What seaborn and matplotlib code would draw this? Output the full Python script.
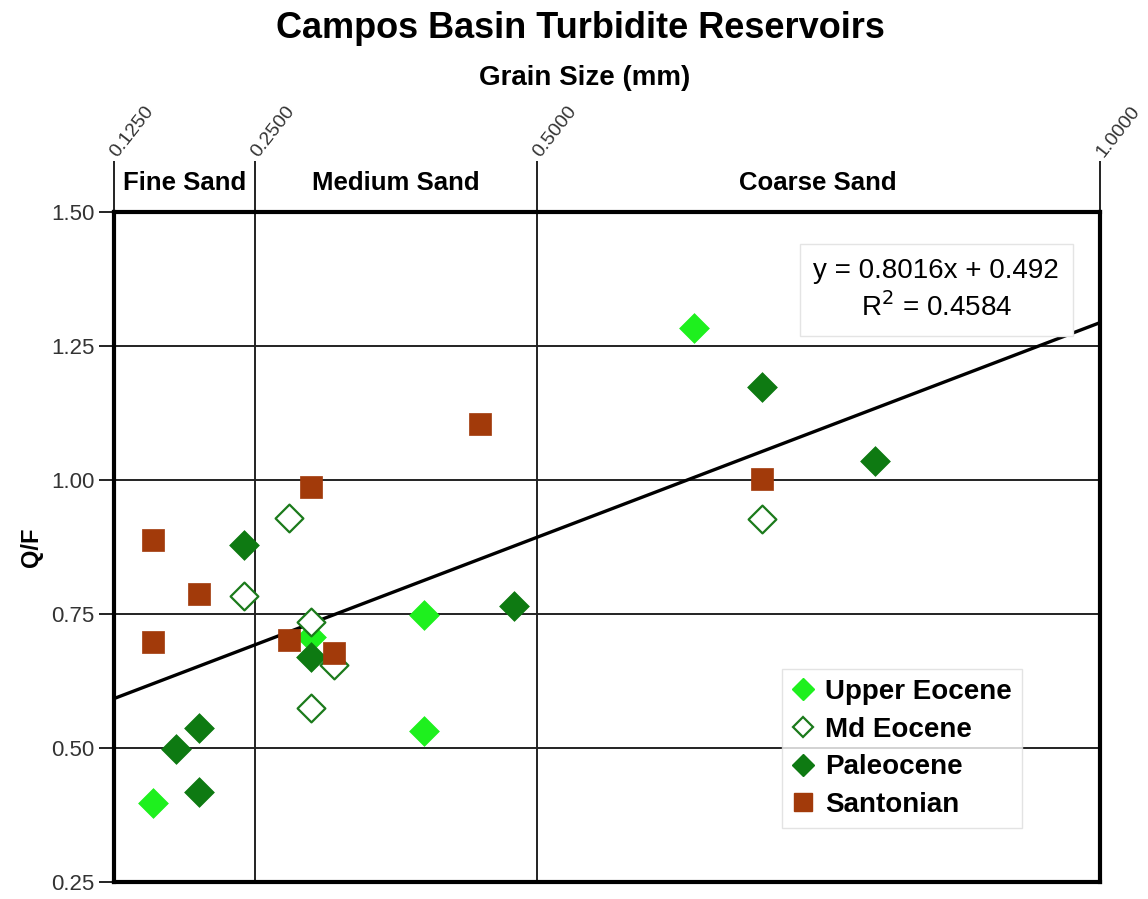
import numpy as np
import pandas as pd
import matplotlib
matplotlib.use("Agg")
import matplotlib.pyplot as plt
import matplotlib.transforms as mtrans
from matplotlib.lines import Line2D
import seaborn as sns

sns.set_style("white")
plt.rcParams['font.family'] = ['Liberation Sans', 'DejaVu Sans']
plt.rcParams['text.color'] = 'black'
plt.rcParams['axes.labelcolor'] = 'black'

# grain size (mm) and Q/F ratio per series
upper_eocene_x = [0.64, 0.16, 0.30, 0.40, 0.40]
upper_eocene_y = [1.284, 0.397, 0.707, 0.748, 0.532]

md_eocene_x = [0.28, 0.24, 0.30, 0.32, 0.30, 0.70]
md_eocene_y = [0.929, 0.784, 0.735, 0.655, 0.575, 0.927]

paleocene_x = [0.24, 0.30, 0.20, 0.18, 0.20, 0.48, 0.70, 0.80]
paleocene_y = [0.879, 0.670, 0.537, 0.498, 0.418, 0.765, 1.173, 1.035]

santonian_x = [0.16, 0.20, 0.16, 0.28, 0.32, 0.30, 0.45, 0.70]
santonian_y = [0.888, 0.787, 0.698, 0.701, 0.677, 0.987, 1.104, 1.002]

# trend line
slope = 0.8016
intercept = 0.492
r2 = 0.4584

x_ticks = [0.125, 0.25, 0.5, 1.0]
x_tick_labels = ["0.1250", "0.2500", "0.5000", "1.0000"]
y_ticks = [0.25, 0.50, 0.75, 1.00, 1.25, 1.50]
zone_names = ["Fine Sand", "Medium Sand", "Coarse Sand"]

fig = plt.figure(figsize=(11.48, 8.99), dpi=100)
ax = fig.add_axes([114 / 1148, 1 - 882 / 899, (1100 - 114) / 1148, (882 - 212) / 899])

ax.set_xlim(0.125, 1.0)
ax.set_ylim(0.25, 1.5)

# grid lines
for yv in y_ticks[1:-1]:
    ax.axhline(yv, color='#222222', lw=1.4, zorder=1)
for xv in x_ticks[1:-1]:
    ax.axvline(xv, color='#222222', lw=1.4, zorder=1)

# trend line
xs = np.array([x_ticks[0], x_ticks[-1]])
ax.plot(xs, slope * xs + intercept, color='black', lw=2.4, zorder=2)

series = [
    ("Upper Eocene", upper_eocene_x, upper_eocene_y, 'D', '#1EF01E', '#1EF01E', 230),
    ("Md Eocene", md_eocene_x, md_eocene_y, 'D', 'white', '#1B7A1B', 200),
    ("Paleocene", paleocene_x, paleocene_y, 'D', '#0E7A12', '#0E7A12', 230),
    ("Santonian", santonian_x, santonian_y, 's', '#A23A0A', '#A23A0A', 230),
]
for name, sx, sy, mk, fc, ec, sz in series:
    df = pd.DataFrame({"x": sx, "y": sy})
    sns.scatterplot(data=df, x="x", y="y", ax=ax, marker=mk, s=sz,
                    facecolor=fc, edgecolor=ec, linewidth=1.6 if fc == 'white' else 0.5,
                    zorder=3)

# spines
for sp in ax.spines.values():
    sp.set_linewidth(3)
    sp.set_color('black')

# y axis
ax.set_yticks(y_ticks)
ax.set_yticklabels(["%.2f" % v for v in y_ticks])
ax.tick_params(axis='y', direction='out', length=11, width=1.4, color='#222222',
               labelsize=16, labelcolor='#333333', pad=3, left=True)
ax.set_ylabel("Q/F", fontsize=17, fontweight='bold')
ax.yaxis.set_label_coords(-0.072, 0.5)

# x axis on top, ticks extended upward as zone separators
ax.xaxis.set_ticks_position('top')
ax.set_xticks(x_ticks)
ax.set_xticklabels(x_tick_labels, rotation=52, ha='left', va='center',
                   rotation_mode='anchor')
ax.tick_params(axis='x', direction='out', length=37, width=1.4, color='#222222',
               labelsize=14, labelcolor='#333333', pad=4, top=True, bottom=False)
ax.set_xlabel("")

# zone labels
trans = mtrans.blended_transform_factory(ax.transData, ax.transAxes)
for i, name in enumerate(zone_names):
    xc = (x_ticks[i] + x_ticks[i + 1]) / 2
    ax.text(xc, 1.044, name, transform=trans, ha='center', va='center',
            fontsize=18.5, fontweight='bold')

fig.text(580 / 1148, 1 - 29 / 899, "Campos Basin Turbidite Reservoirs",
         ha='center', va='center', fontsize=26, fontweight='bold')
fig.text(585 / 1148, 1 - 78 / 899, "Grain Size (mm)",
         ha='center', va='center', fontsize=20, fontweight='bold')

# equation box
ax.text(0.834, 0.884, "y = 0.8016x + 0.492\nR$^2$ = %.4f" % r2,
        transform=ax.transAxes, ha='center', va='center', fontsize=20,
        linespacing=1.35, zorder=5,
        bbox=dict(boxstyle='square,pad=0.5', fc='white', ec='#e4e4e4', lw=1))

# legend
handles = [
    Line2D([], [], ls='none', marker='D', ms=11, mfc='#1EF01E', mec='#1EF01E'),
    Line2D([], [], ls='none', marker='D', ms=10, mfc='white', mec='#1B7A1B', mew=1.6),
    Line2D([], [], ls='none', marker='D', ms=11, mfc='#0E7A12', mec='#0E7A12'),
    Line2D([], [], ls='none', marker='s', ms=13, mfc='#A23A0A', mec='#A23A0A'),
]
leg = ax.legend(handles, [s[0] for s in series], loc='lower left',
                bbox_to_anchor=(0.6775, 0.081), borderaxespad=0, frameon=True,
                fancybox=False, prop=dict(size=20, weight='bold'), handlelength=0.8,
                handletextpad=0.4, labelspacing=0.42, borderpad=0.35)
leg.get_frame().set_edgecolor('#dddddd')
leg.get_frame().set_linewidth(1)

fig.savefig("out.png", dpi=100)
